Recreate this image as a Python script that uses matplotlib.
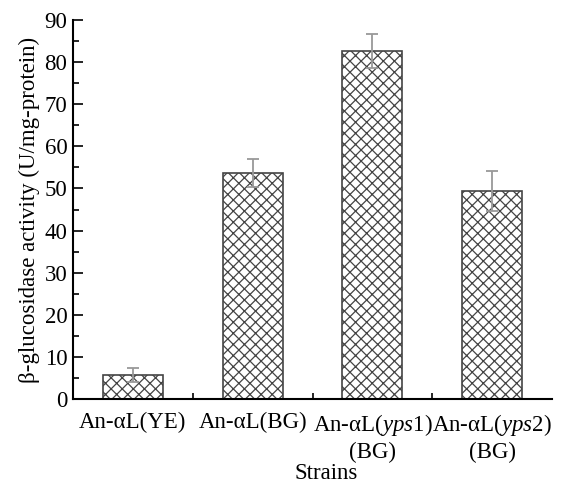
import matplotlib.pyplot as plt
import numpy as np

plt.rcParams['font.family'] = ['Liberation Serif', 'DejaVu Serif']
plt.rcParams['mathtext.fontset'] = 'custom'
plt.rcParams['mathtext.it'] = 'Liberation Serif:italic'
plt.rcParams['mathtext.rm'] = 'Liberation Serif'
plt.rcParams['hatch.color'] = '#808080'
plt.rcParams['hatch.linewidth'] = 0.9

strains = ['An-αL(YE)', 'An-αL(BG)', 'An-αL($\\it{yps}$1)\n(BG)', 'An-αL($\\it{yps}$2)\n(BG)']
activity = [5.7, 53.7, 82.7, 49.4]
errors = [1.7, 3.3, 4.0, 4.7]

fig = plt.figure(figsize=(5.69, 4.84), dpi=100)
ax = fig.add_axes([73 / 569, 1 - 399 / 484, (552 - 73) / 569, (399 - 20) / 484])

x = np.arange(len(strains))
ax.bar(x, activity, width=0.5, color='white', edgecolor='#444444', linewidth=1.2,
       hatch='xxx', zorder=2)
ax.errorbar(x, activity, yerr=errors, fmt='none', ecolor='#999999', elinewidth=1.3,
            capsize=4, capthick=1.3, zorder=3)

ax.set_xlim(-0.5, 3.5)
ax.set_ylim(0, 90)
ax.set_yticks(np.arange(0, 91, 10))
ax.set_yticks(np.arange(5, 90, 10), minor=True)
ax.set_xticks(x)
ax.set_xticks([0.5, 1.5, 2.5], minor=True)
ax.set_xticklabels(strains, fontsize=16.5, linespacing=1.3)
ax.tick_params(axis='y', labelsize=16.5, pad=4)
ax.tick_params(which='major', direction='in', length=7, width=1.2)
ax.tick_params(which='minor', direction='in', length=4, width=1.2)
ax.tick_params(axis='x', pad=9)

for s in ['top', 'right']:
    ax.spines[s].set_visible(False)
for s in ['left', 'bottom']:
    ax.spines[s].set_linewidth(1.5)

ax.set_ylabel('β-glucosidase activity (U/mg-protein)', fontsize=16.5, labelpad=3)
ax.set_xlabel('Strains', fontsize=16.5, labelpad=0)
ax.xaxis.set_label_coords(0.528, -0.168, transform=ax.transAxes)
ax.xaxis.label.set_va('top')

fig.savefig('out.png', dpi=100)
